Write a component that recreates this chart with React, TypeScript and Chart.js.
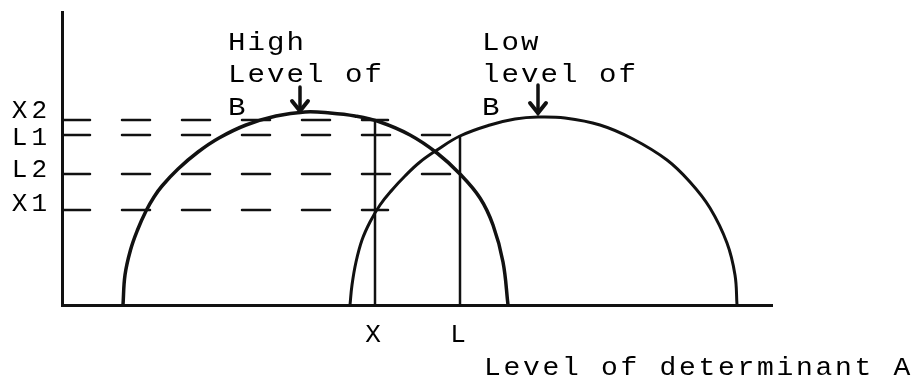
import React, { useEffect, useRef } from "react";
import { Chart, registerables } from "chart.js";

Chart.register(...registerables);

// ---- data (units: horizontal "level of A", vertical "outcome") ----
const levelNames = ["X2", "L1", "L2", "X1"];
const levelValues = [185, 170, 131, 95];
const levelLabelPositions = [194, 167, 135, 101];
const levelEnds = [326, 398, 398, 326];

const markerNames = ["X", "L"];
const markerValues = [313, 398];
const markerTops = [185, 170];

const highX = [61, 63, 68.5, 75.5, 84, 92, 100, 116, 136, 157, 184, 214, 243, 268, 293, 318, 348, 375, 398, 418, 431, 441, 446];
const highY = [0, 30, 55, 75, 94, 108, 119, 136, 153, 167, 180, 189, 193, 192, 189, 183, 170, 152, 131, 107, 80, 43, 0];

const lowX = [288, 290, 294, 300, 308, 318, 330, 343, 358, 375, 398, 428, 453, 476, 503, 538, 571, 605, 628, 648, 665, 673, 675];
const lowY = [0, 20, 43, 65, 83, 100, 115, 129, 143, 155, 169, 180, 186, 188, 187, 180, 166, 145, 123, 97, 62, 30, 0];

const captionLeft = [166, 420];
const captionLines = [
  ["High", "Level of", "B"],
  ["Low", "level of", "B"],
];
const captionBaselines = [255, 223, 190];
const arrowX = [238, 476];
const arrowTop = [218, 220];
const arrowTip = [194, 192];

const axisTitle = "Level of determinant A";
const axisTitleX = 422;
const axisTitleY = -70;

const X_MAX = 710;
const Y_MAX = 293;

const MONO = "'Liberation Mono', 'DejaVu Sans Mono', monospace";
const PITCH = 19.5;
const INK = "#111";

function drawMono(ctx: CanvasRenderingContext2D, text: string, x: number, y: number) {
  for (let i = 0; i < text.length; i++) {
    ctx.save();
    ctx.translate(x + i * PITCH, y);
    ctx.scale(1.12, 1);
    ctx.fillText(text[i], 0, 0);
    ctx.restore();
  }
}

const annotations = {
  id: "annotations",
  beforeDraw(chart: any) {
    (chart.ctx as any).letterSpacing = "4px";
  },
  afterDraw(chart: any) {
    const { ctx, scales } = chart;
    const xs = scales.x;
    const ys = scales.y;
    ctx.save();
    (ctx as any).letterSpacing = "0px";
    ctx.fillStyle = "#000";
    ctx.strokeStyle = INK;
    ctx.textAlign = "left";
    ctx.textBaseline = "alphabetic";
    ctx.font = `26px ${MONO}`;
    captionLines.forEach((lines, k) => {
      const px = xs.getPixelForValue(captionLeft[k]);
      lines.forEach((line, j) => {
        drawMono(ctx, line, px, ys.getPixelForValue(captionBaselines[j]));
      });
    });
    // arrows
    arrowX.forEach((ax, k) => {
      const px = xs.getPixelForValue(ax);
      const top = ys.getPixelForValue(arrowTop[k]);
      const tip = ys.getPixelForValue(arrowTip[k]);
      ctx.lineWidth = 3.5;
      ctx.lineCap = "round";
      ctx.beginPath();
      ctx.moveTo(px, top);
      ctx.lineTo(px, tip);
      ctx.stroke();
      ctx.lineWidth = 4;
      ctx.beginPath();
      ctx.moveTo(px - 8, tip - 10);
      ctx.lineTo(px, tip);
      ctx.lineTo(px + 8, tip - 10);
      ctx.stroke();
    });
    ctx.font = `25px ${MONO}`;
    drawMono(ctx, axisTitle, xs.getPixelForValue(axisTitleX), ys.getPixelForValue(axisTitleY));
    ctx.restore();
  },
};

export default function App() {
  const ref = useRef<HTMLCanvasElement | null>(null);
  useEffect(() => {
    if (!ref.current) return;
    const toPts = (xs: number[], ys: number[]) => xs.map((x, i) => ({ x, y: ys[i] }));
    const datasets: any[] = [];
    levelValues.forEach((v, i) => {
      datasets.push({
        label: levelNames[i],
        data: [
          { x: 0, y: v },
          { x: levelEnds[i], y: v },
        ],
        borderColor: INK,
        borderWidth: 2.5,
        borderDash: [28, 32],
        borderCapStyle: "round",
        pointRadius: 0,
      });
    });
    markerValues.forEach((m, i) => {
      datasets.push({
        label: markerNames[i],
        data: [
          { x: m, y: 0 },
          { x: m, y: markerTops[i] },
        ],
        borderColor: INK,
        borderWidth: 2.5,
        pointRadius: 0,
      });
    });
    datasets.push({
      label: "High level of B",
      data: toPts(highX, highY),
      borderColor: INK,
      borderWidth: 3.5,
      tension: 0.4,
      pointRadius: 0,
    });
    datasets.push({
      label: "Low level of B",
      data: toPts(lowX, lowY),
      borderColor: INK,
      borderWidth: 3,
      tension: 0.4,
      pointRadius: 0,
    });

    const tickFont = { family: MONO, size: 26 };
    const noPad = (s: any) => {
      s.paddingTop = 0;
      s.paddingBottom = 0;
      s.paddingLeft = 0;
      s.paddingRight = 0;
    };
    const chart = new Chart(ref.current, {
      type: "line",
      data: { datasets },
      options: {
        animation: false,
        responsive: true,
        maintainAspectRatio: false,
        events: [],
        layout: { padding: { top: 12, right: 145, left: 0, bottom: 0 } },
        plugins: { legend: { display: false }, tooltip: { enabled: false } },
        scales: {
          x: {
            type: "linear",
            min: 0,
            max: X_MAX,
            grid: { display: false, drawTicks: false, tickLength: 0 },
            border: { display: true, color: INK, width: 3 },
            afterBuildTicks: (s: any) => {
              s.ticks = markerValues.map((v) => ({ value: v }));
            },
            afterFit: (s: any) => {
              s.height = 74;
              noPad(s);
            },
            ticks: {
              autoSkip: false,
              maxRotation: 0,
              color: "#000",
              font: tickFont,
              padding: 15,
              callback: (v: any) => markerNames[markerValues.indexOf(Number(v))] ?? "",
            },
          },
          y: {
            type: "linear",
            min: 0,
            max: Y_MAX,
            grid: { display: false, drawTicks: false, tickLength: 0 },
            border: { display: true, color: INK, width: 3 },
            afterBuildTicks: (s: any) => {
              s.ticks = levelLabelPositions.map((v) => ({ value: v }));
            },
            afterFit: (s: any) => {
              s.width = 62;
              noPad(s);
            },
            ticks: {
              autoSkip: false,
              color: "#000",
              font: tickFont,
              padding: 11,
              callback: (v: any) => levelNames[levelLabelPositions.indexOf(Number(v))] ?? "",
            },
          },
        },
      },
      plugins: [annotations],
    });
    return () => chart.destroy();
  }, []);

  return (
    <div style={{ position: "fixed", left: 0, top: 0, width: 917, height: 379, background: "#fff" }}>
      <canvas ref={ref} />
    </div>
  );
}
